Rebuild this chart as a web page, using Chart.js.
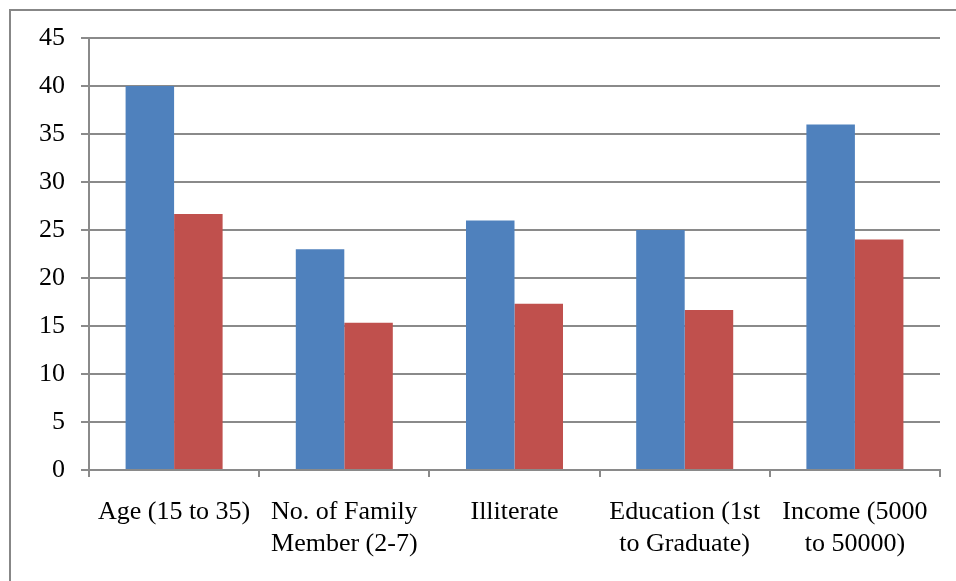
<!DOCTYPE html>
<html>
<head>
<meta charset="utf-8">
<script src="https://cdn.jsdelivr.net/npm/chart.js@4"></script>
<style>
  html, body { margin: 0; padding: 0; background: #fff; }
  #wrap { position: relative; width: 956px; height: 581px; overflow: hidden; }
  #frame { position: absolute; left: 9px; top: 9px; width: 1200px; height: 1200px; border: 2px solid #878787; box-sizing: border-box; }
  canvas { position: absolute; left: 0; top: 0; }
</style>
</head>
<body>
<div id="wrap">
  <div id="frame"></div>
  <canvas id="barChart" width="956" height="581"></canvas>
</div>
<script>
// categories and the two series
const categories = [
  'Age (15 to 35)',
  ['No. of Family', 'Member (2-7)'],
  'Illiterate',
  ['Education (1st', 'to Graduate)'],
  ['Income (5000', 'to 50000)']
];
const seriesBlue = [40, 23, 26, 25, 36];
const seriesRed = [26.67, 15.33, 17.33, 16.67, 24];
const yMax = 45;
const yStep = 5;

const gridGray = '#8a8a8a';
const labelFont = { family: '"Liberation Serif", "Times New Roman", serif', size: 26, lineHeight: 1.23 };

const config = {
  type: 'bar',
  data: {
    labels: categories,
    datasets: [
      { label: 'Series 1', data: seriesBlue, backgroundColor: '#4F81BD', borderWidth: 0 },
      { label: 'Series 2', data: seriesRed, backgroundColor: '#C0504D', borderWidth: 0 }
    ]
  },
  options: {
    responsive: false,
    animation: false,
    categoryPercentage: 0.57,
    barPercentage: 1.0,
    layout: { padding: { left: 0, top: 38, right: 16, bottom: 0 } },
    plugins: {
      legend: { display: false },
      tooltip: { enabled: false }
    },
    scales: {
      x: {
        grid: {
          offset: true,
          drawOnChartArea: false,
          drawTicks: true,
          tickLength: 7,
          color: gridGray,
          lineWidth: 2
        },
        border: { color: gridGray, width: 2 },
        ticks: {
          color: '#000',
          font: labelFont,
          padding: 19,
          maxRotation: 0,
          autoSkip: false
        },
        afterFit: (scale) => { scale.height = 111; }
      },
      y: {
        min: 0,
        max: yMax,
        ticks: {
          stepSize: yStep,
          color: '#000',
          font: labelFont,
          padding: 16
        },
        grid: {
          color: gridGray,
          lineWidth: 2,
          tickLength: 8
        },
        border: { color: gridGray, width: 2 },
        afterFit: (scale) => { scale.width = 89; }
      }
    }
  }
};

new Chart(document.getElementById('barChart'), config);
</script>
</body>
</html>
